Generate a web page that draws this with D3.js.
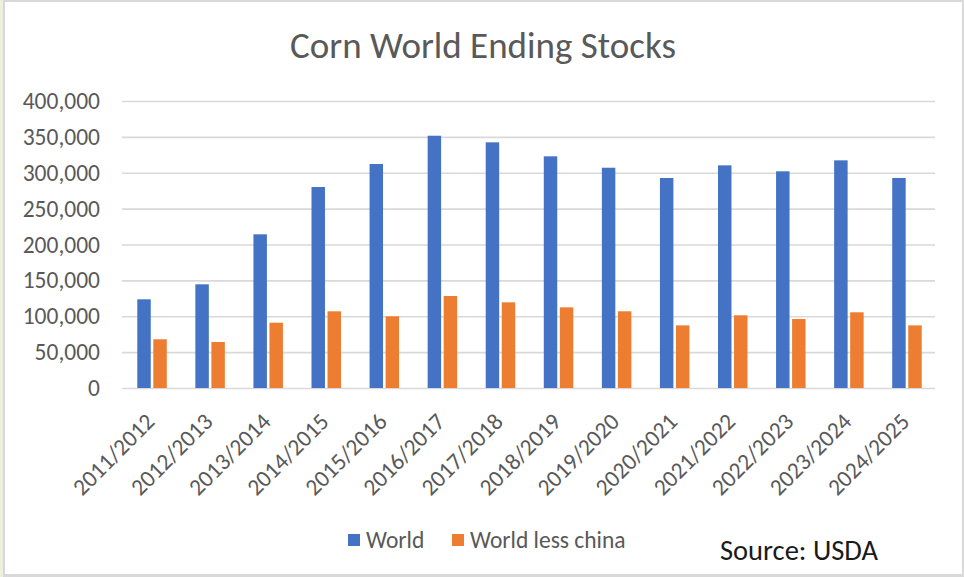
<!DOCTYPE html>
<html>
<head>
<meta charset="utf-8">
<script src="https://cdn.jsdelivr.net/npm/d3@7"></script>
<style>
  html, body { margin: 0; padding: 0; background: #fff; }
  svg { display: block; }
  text { font-family: Carlito, Lato, "Open Sans", sans-serif; }
</style>
</head>
<body>
<svg id="chart" width="964" height="577"></svg>
<script>
const categories = ["2011/2012","2012/2013","2013/2014","2014/2015","2015/2016","2016/2017","2017/2018",
  "2018/2019","2019/2020","2020/2021","2021/2022","2022/2023","2023/2024","2024/2025"];
const seriesNames = ["World", "World less china"];
const worldValues = [123600, 144500, 214200, 280100, 312200, 351600, 342400,
  322900, 307000, 292700, 310300, 302000, 317300, 292700];
const worldLessChinaValues = [67900, 64100, 91000, 106900, 99900, 128200, 119400,
  112400, 106900, 87300, 101300, 96200, 105500, 87300];
const yTicks = [0, 50000, 100000, 150000, 200000, 250000, 300000, 350000, 400000];
const colors = ["#4472c4", "#ed7d31"];

const svg = d3.select("#chart");
const W = 964, H = 577;

// frame
svg.append("rect").attr("x", 0).attr("y", 0).attr("width", W).attr("height", H).attr("fill", "#ebf1de");
svg.append("rect").attr("x", 3).attr("y", 0).attr("width", W - 3).attr("height", H).attr("fill", "#d9d9d9");
svg.append("rect").attr("x", 5).attr("y", 2).attr("width", W - 7).attr("height", H - 5).attr("fill", "#ffffff");

const plot = { left: 122, right: 935, top: 101, bottom: 388 };

const x0 = d3.scaleBand().domain(categories).range([plot.left, plot.right]).paddingInner(0).paddingOuter(0);
const bw = x0.bandwidth();
const groupW = 29.5;
const x1 = d3.scaleBand().domain(seriesNames)
  .range([bw / 2 + 1 - groupW / 2, bw / 2 + 1 + groupW / 2]).paddingInner(0.16).paddingOuter(0);
const y = d3.scaleLinear().domain([0, 400000]).range([plot.bottom, plot.top]);

// gridlines + y labels
const yAxis = d3.axisLeft(y).tickValues(yTicks).tickSize(-(plot.right - plot.left)).tickPadding(22)
  .tickFormat(d3.format(","));
const gy = svg.append("g").attr("transform", `translate(${plot.left},0)`).call(yAxis);
gy.select(".domain").remove();
gy.selectAll(".tick line").attr("stroke", "#d9d9d9").attr("stroke-width", 1.6);
gy.selectAll(".tick text").attr("fill", "#595959").style("font-size", "23.5px")
  .style("font-family", "Carlito, Lato, sans-serif");

// bars
const data = categories.map((c, i) => ({ cat: c, vals: [worldValues[i], worldLessChinaValues[i]] }));
const groups = svg.append("g").selectAll("g").data(data).join("g")
  .attr("transform", d => `translate(${x0(d.cat)},0)`);
groups.selectAll("rect").data(d => d.vals.map((v, k) => ({ k, v }))).join("rect")
  .attr("x", d => x1(seriesNames[d.k]))
  .attr("width", x1.bandwidth())
  .attr("y", d => y(d.v))
  .attr("height", d => y(0) - y(d.v))
  .attr("fill", d => colors[d.k]);

// x axis labels
const xAxis = d3.axisBottom(x0).tickSize(0).tickPadding(0);
const gx = svg.append("g").attr("transform", `translate(0,${plot.bottom})`).call(xAxis);
gx.select(".domain").remove();
gx.selectAll(".tick text")
  .attr("fill", "#595959").style("font-size", "23.5px").style("font-family", "Carlito, Lato, sans-serif")
  .attr("text-anchor", "end").attr("dy", null).attr("y", 0)
  .attr("transform", "translate(5,35) rotate(-45)");

// title
svg.append("text").attr("x", 483).attr("y", 58).attr("text-anchor", "middle")
  .attr("fill", "#595959").style("font-size", "37px").text("Corn World Ending Stocks");

// legend
const legend = svg.append("g");
const legX = [348, 452];
seriesNames.forEach((n, k) => {
  legend.append("rect").attr("x", legX[k]).attr("y", 534).attr("width", 12).attr("height", 12).attr("fill", colors[k]);
  legend.append("text").attr("x", legX[k] + 18).attr("y", 548).attr("fill", "#595959")
    .style("font-size", "23.5px").text(n);
});

// source
svg.append("text").attr("x", 720).attr("y", 560).attr("fill", "#1a1a1a").style("font-size", "28.5px").text("Source: USDA");
</script>
</body>
</html>
